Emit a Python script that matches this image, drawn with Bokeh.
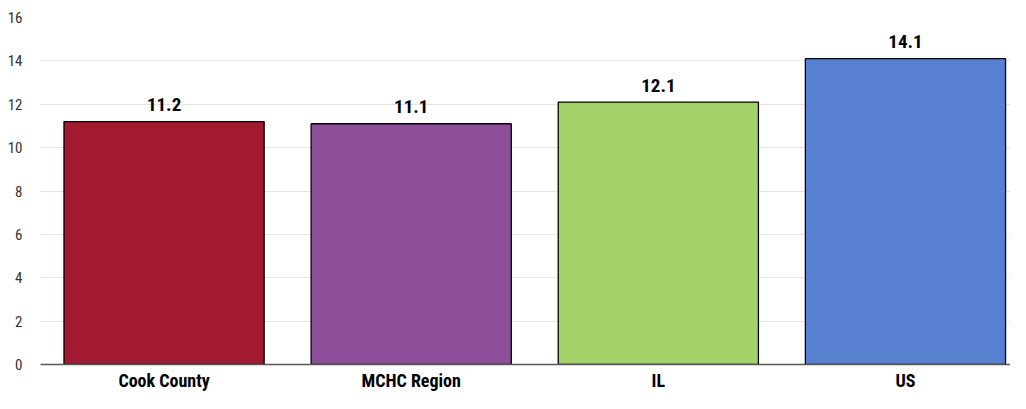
from bokeh.plotting import figure
from bokeh.models import ColumnDataSource, FixedTicker, Range1d
from bokeh.core.properties import value
from bokeh.embed import file_html
from bokeh.resources import INLINE

categories = ["Cook County", "MCHC Region", "IL", "US"]
values = [11.2, 11.1, 12.1, 14.1]
colors = ["#A21A2F", "#8D4F9A", "#A3D16A", "#5781D0"]
labels = ["11.2", "11.1", "12.1", "14.1"]
y_ticks = [0, 2, 4, 6, 8, 10, 12, 14, 16]

FONT = "Liberation Sans Narrow, Arial Narrow, Roboto Condensed, sans-serif"

xs = [i + 0.5 for i in range(len(categories))]
src = ColumnDataSource(dict(x=xs, top=values, color=colors, label=labels, cat=categories))

p = figure(width=1010, height=393, output_backend="svg", toolbar_location=None,
           x_range=Range1d(0, 3.925), y_range=Range1d(0, 16),
           min_border_left=40, min_border_right=0, min_border_top=17, min_border_bottom=26)
p.outline_line_color = None
p.background_fill_color = "white"

p.vbar(x="x", top="top", width=0.81, bottom=0, source=src,
       fill_color="color", line_color="black", line_width=1.3)

p.text(x="x", y="top", text="label", source=src, text_align="center",
       text_baseline="alphabetic", y_offset=-17,
       text_font=value(FONT), text_font_style="bold", text_font_size="19px",
       text_color="black")

# x axis
p.xaxis.ticker = FixedTicker(ticks=xs)
p.xaxis.major_label_overrides = {x: c for x, c in zip(xs, categories)}
p.xaxis.major_tick_line_color = None
p.xaxis.minor_tick_line_color = None
p.xaxis.major_tick_out = 0
p.xaxis.major_tick_in = 0
p.xaxis.axis_line_color = "#595959"
p.xaxis.axis_line_width = 1.5
p.xaxis.major_label_text_font = FONT
p.xaxis.major_label_text_font_style = "bold"
p.xaxis.major_label_text_font_size = "18px"
p.xaxis.major_label_text_color = "black"
p.xaxis.major_label_standoff = 5

# y axis
p.yaxis.ticker = FixedTicker(ticks=y_ticks)
p.yaxis.axis_line_color = None
p.yaxis.major_tick_line_color = None
p.yaxis.minor_tick_line_color = None
p.yaxis.major_tick_out = 0
p.yaxis.major_tick_in = 0
p.yaxis.major_label_text_font = FONT
p.yaxis.major_label_text_font_size = "15px"
p.yaxis.major_label_text_color = "#333333"
p.yaxis.major_label_standoff = 18

p.xgrid.grid_line_color = None
p.ygrid.grid_line_color = "#e4e4e4"
p.ygrid.grid_line_width = 1

open("out.html", "w").write(file_html(p, INLINE))
